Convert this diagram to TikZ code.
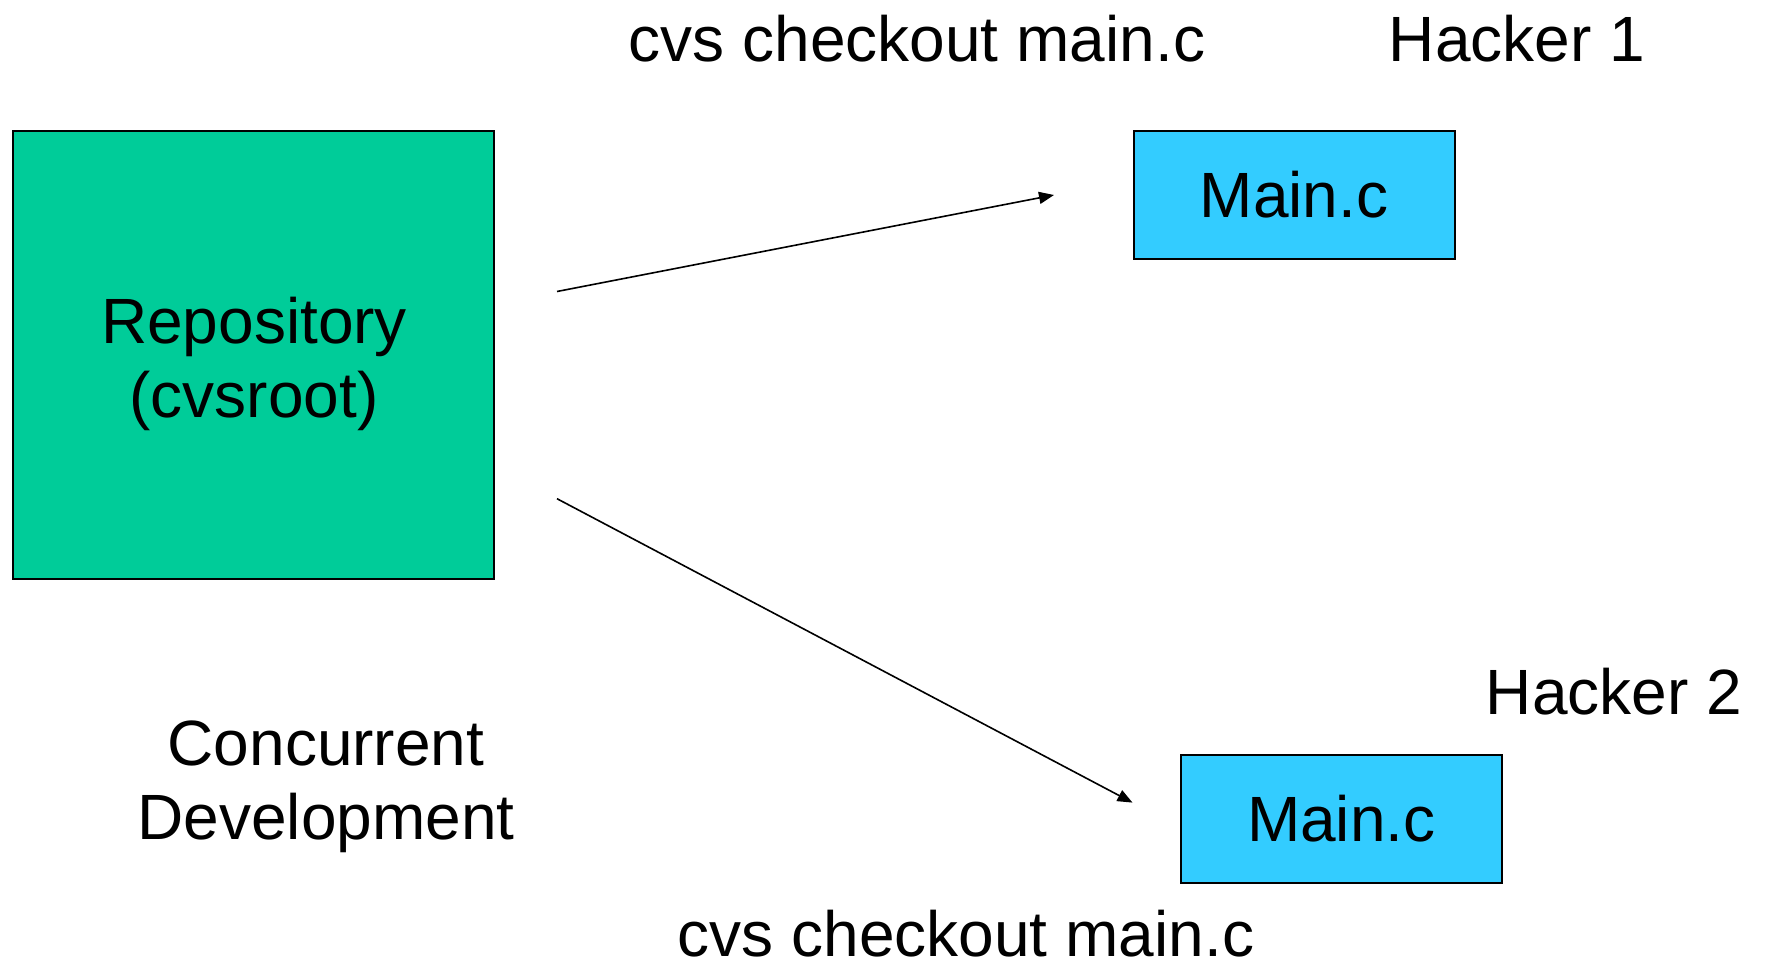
\documentclass[tikz,border=0pt]{standalone}
\usepackage{fontspec}
\setmainfont{Liberation Sans}
\usetikzlibrary{arrows.meta}
\definecolor{repogreen}{RGB}{0,204,153}
\definecolor{fileblue}{RGB}{51,204,255}

\begin{document}
\begin{tikzpicture}
    [x = .5pt, y = -.5pt, font = \fontsize{32}{37}\selectfont,
     repo/.style = {draw, line width = 1pt, fill = repogreen, align = center,
                    minimum width = 240.5pt, minimum height = 224pt},
     work/.style = {draw, line width = 1pt, fill = fileblue,
                    minimum width = 160.5pt, minimum height = 64pt},
     lbl/.style = {align = center, inner sep = 0pt}]
    \useasboundingbox (0,0) rectangle (1765,961);
    \node[repo] (repo) at (253.75,354.6) {};
    \node[lbl] (repotext) at (254,364) {Repository\\(cvsroot)};
    \node[work] (main1) at (1294,194.75) {Main.c};
    \node[work] (main2) at (1341.3,819) {Main.c};
    \node[lbl] (co1) at (917,39) {cvs checkout main.c};
    \node[lbl] (co2) at (966,934) {cvs checkout main.c};
    \node[lbl] (h1) at (1517,39) {Hacker 1};
    \node[lbl] (h2) at (1614,692) {Hacker 2};
    \node[lbl] (title) at (326,787) {Concurrent\\Development};
    \coordinate (out1) at (557,291.5);
    \coordinate (out2) at (557,498.7);
    \coordinate (in1) at (1054,195);
    \coordinate (in2) at (1132.5,802.6);
    \foreach \from/ \to in {out1/in1,out2/in2}
      \draw[-{Triangle[length=7.5pt,width=6pt]}, line width = .8pt] (\from) -- (\to);
  \end{tikzpicture}
\end{document}
